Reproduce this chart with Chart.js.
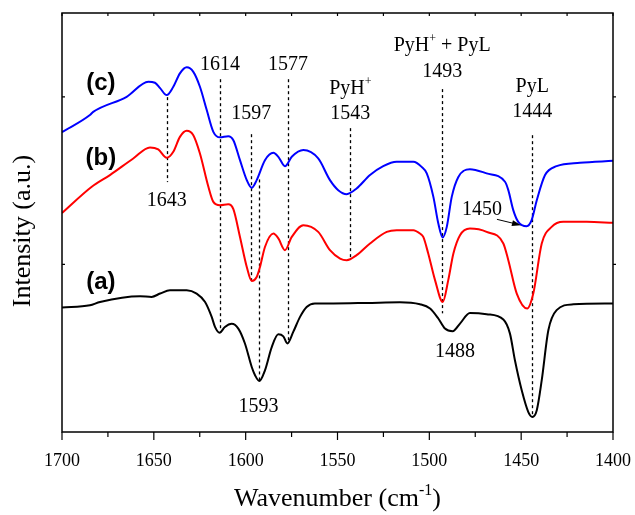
<!DOCTYPE html>
<html>
<head>
<meta charset="utf-8">
<script src="https://cdn.jsdelivr.net/npm/chart.js@4.4.1/dist/chart.umd.min.js"></script>
<style>
  html, body { margin: 0; padding: 0; background: #fff; }
  #wrap { width: 635px; height: 515px; }
</style>
</head>
<body>
<div id="wrap"><canvas id="c" width="635" height="515"></canvas></div>
<script>
// IR spectra of adsorbed pyridine, wavenumber axis runs from 1700 down to 1400 cm-1

// (c) blue spectrum
const wnC = [1700, 1684.8, 1683.0, 1664.8, 1653.0, 1649.4, 1646.6, 1643.0, 1639.4, 1635.8, 1632.1, 1628.5,
  1624.9, 1621.2, 1617.6, 1614.0, 1609.5, 1606.7, 1603.1, 1599.4, 1596.7, 1594.0, 1589.5, 1584.9, 1582.2,
  1578.6, 1574.9, 1568.6, 1560.5, 1554.1, 1549.6, 1545.0, 1539.6, 1532.3, 1525.1, 1517.8, 1508.7, 1504.2,
  1501.4, 1497.8, 1495.1, 1492.7, 1490.5, 1487.8, 1484.2, 1477.9, 1468.8, 1458.8, 1457.0, 1454.3, 1451.6,
  1447.0, 1444.3, 1441.5, 1437.0, 1430.7, 1418.0, 1400];
const intC = [1.789, 1.891, 1.910, 2.000, 2.090, 2.084, 2.052, 2.010, 2.060, 2.140, 2.176, 2.149,
  2.060, 1.921, 1.791, 1.758, 1.765, 1.741, 1.622, 1.503, 1.457, 1.503, 1.622, 1.666, 1.642,
  1.586, 1.642, 1.682, 1.632, 1.503, 1.443, 1.419, 1.453, 1.533, 1.586, 1.612, 1.612, 1.582,
  1.543, 1.403, 1.244, 1.161, 1.224, 1.403, 1.522, 1.568, 1.543, 1.493, 1.443, 1.324, 1.254,
  1.228, 1.264, 1.383, 1.533, 1.586, 1.606, 1.618];

// (b) red spectrum
const wnB = [1700, 1683.8, 1673.9, 1661.2, 1652.1, 1647.6, 1643.0, 1639.4, 1635.8, 1632.1, 1628.5, 1624.9,
  1620.3, 1617.6, 1614.0, 1609.5, 1606.7, 1603.1, 1599.4, 1596.7, 1594.0, 1592.2, 1589.5, 1584.9, 1582.2,
  1578.6, 1574.9, 1568.6, 1560.5, 1554.1, 1548.6, 1545.0, 1539.6, 1532.3, 1523.2, 1517.8, 1508.7, 1505.1,
  1503.3, 1500.6, 1496.9, 1492.7, 1489.7, 1486.9, 1483.3, 1477.9, 1468.8, 1459.7, 1457.0, 1452.4, 1446.7,
  1443.4, 1438.8, 1433.4, 1427.1, 1414.3, 1400];
const intB = [1.306, 1.463, 1.533, 1.632, 1.698, 1.686, 1.636, 1.672, 1.761, 1.797, 1.771, 1.662,
  1.463, 1.373, 1.353, 1.359, 1.330, 1.164, 0.985, 0.901, 0.925, 0.985, 1.104, 1.184, 1.155,
  1.085, 1.164, 1.234, 1.194, 1.085, 1.035, 1.025, 1.055, 1.125, 1.194, 1.204, 1.204, 1.184,
  1.164, 1.065, 0.906, 0.776, 0.906, 1.065, 1.174, 1.214, 1.194, 1.125, 1.025, 0.826, 0.737,
  0.826, 1.125, 1.224, 1.254, 1.254, 1.248];

// (a) black spectrum
const wnA = [1700, 1684.8, 1679.3, 1657.5, 1651.2, 1646.6, 1641.2, 1632.1, 1626.7, 1622.1, 1618.5, 1616.7,
  1614.2, 1611.3, 1607.6, 1604.0, 1600.4, 1596.7, 1594.9, 1592.6, 1589.5, 1585.8, 1582.2, 1579.5, 1577.3,
  1574.1, 1570.4, 1566.8, 1562.3, 1552.3, 1534.1, 1516.0, 1505.1, 1499.6, 1495.1, 1491.5, 1487.3, 1483.3,
  1477.9, 1468.8, 1459.7, 1456.1, 1453.4, 1449.7, 1446.1, 1443.9, 1441.5, 1438.8, 1435.2, 1430.7, 1421.6, 1400];
const intA = [0.743, 0.756, 0.776, 0.810, 0.806, 0.826, 0.846, 0.846, 0.826, 0.776, 0.687, 0.627,
  0.592, 0.627, 0.646, 0.617, 0.528, 0.388, 0.339, 0.304, 0.368, 0.507, 0.583, 0.571, 0.528,
  0.597, 0.687, 0.746, 0.767, 0.767, 0.770, 0.774, 0.762, 0.737, 0.677, 0.617, 0.601, 0.647,
  0.710, 0.703, 0.671, 0.587, 0.428, 0.249, 0.119, 0.090, 0.130, 0.309, 0.607, 0.727, 0.762, 0.767];

// Band positions marked by dashed lines: wavenumber, upper and lower end (intensity units)
const bandWn   = [1643, 1614, 1597, 1593, 1577, 1543, 1493, 1444];
const bandTop  = [1.998, 2.105, 1.777, 1.507, 2.105, 1.813, 2.046, 1.771];
const bandBot  = [1.491, 0.595, 0.899, 0.303, 0.530, 1.041, 0.708, 0.094];

// Text labels: [text, superscript, trailing text, wavenumber, intensity]
const bandLabels = [
  ['1643', '', '', 1643, 1.388],
  ['1614', '', '', 1614, 2.201],
  ['1597', '', '', 1597, 1.908],
  ['1593', '', '', 1593, 0.159],
  ['1577', '', '', 1577, 2.201],
  ['PyH', '+', '', 1543, 2.057],
  ['1543', '', '', 1543, 1.908],
  ['PyH', '+', ' + PyL', 1493, 2.315],
  ['1493', '', '', 1493, 2.159],
  ['PyL', '', '', 1444, 2.069],
  ['1444', '', '', 1444, 1.920],
  ['1488', '', '', 1486, 0.488],
  ['1450', '', '', 1471.3, 1.334]
];
const seriesNames = ['(c)', '(b)', '(a)'];
const seriesNamePos = [[1678.8, 2.081], [1678.8, 1.634], [1678.8, 0.893]];
// arrow from the 1450 label to the shoulder on spectrum (c)
const arrowFrom = [1463.2, 1.269];
const arrowTo = [1450.1, 1.234];

const xTicks = [1700, 1650, 1600, 1550, 1500, 1450, 1400];

const pts = (w, v) => w.map((x, i) => ({ x: x, y: v[i] }));

const SERIF = '"Liberation Serif", "Times New Roman", serif';

function drawSupText(ctx, main, sup, tail, cx, cy, size) {
  const mainFont = size + 'px ' + SERIF;
  const supFont = Math.round(size * 0.6) + 'px ' + SERIF;
  ctx.font = mainFont;
  const w1 = ctx.measureText(main).width;
  const w3 = tail ? ctx.measureText(tail).width : 0;
  ctx.font = supFont;
  const w2 = sup ? ctx.measureText(sup).width : 0;
  let x = cx - (w1 + w2 + w3) / 2;
  ctx.textAlign = 'left';
  ctx.textBaseline = 'alphabetic';
  const base = cy + size * 0.33;
  ctx.font = mainFont;
  ctx.fillText(main, x, base);
  x += w1;
  if (sup) {
    ctx.font = supFont;
    ctx.fillText(sup, x, base - size * 0.42);
    x += w2;
  }
  if (tail) {
    ctx.font = mainFont;
    ctx.fillText(tail, x, base);
  }
}

const decor = {
  id: 'decor',
  beforeDatasetsDraw(chart) {
    const { ctx } = chart;
    const xs = chart.scales.x, ys = chart.scales.y;
    ctx.save();
    ctx.strokeStyle = '#000';
    ctx.lineWidth = 1.3;
    ctx.setLineDash([3, 3]);
    bandWn.forEach((w, i) => {
      const px = Math.round(xs.getPixelForValue(w)) + 0.5;
      ctx.beginPath();
      ctx.moveTo(px, ys.getPixelForValue(bandTop[i]));
      ctx.lineTo(px, ys.getPixelForValue(bandBot[i]));
      ctx.stroke();
    });
    ctx.restore();
  },
  afterDraw(chart) {
    const { ctx, chartArea: a } = chart;
    const xs = chart.scales.x, ys = chart.scales.y;
    ctx.save();
    ctx.strokeStyle = '#000';
    ctx.fillStyle = '#000';
    // frame
    ctx.lineWidth = 1.5;
    ctx.strokeRect(a.left, a.top, a.right - a.left, a.bottom - a.top);
    // x ticks every 25 on bottom (outward) and top (inward)
    ctx.lineWidth = 1.2;
    for (let w = 1400; w <= 1700; w += 25) {
      const px = xs.getPixelForValue(w);
      const major = w % 50 === 0;
      ctx.beginPath();
      ctx.moveTo(px, a.bottom);
      ctx.lineTo(px, a.bottom + (major ? 8 : 5));
      ctx.moveTo(px, a.top);
      ctx.lineTo(px, a.top + 3);
      ctx.stroke();
    }
    // y ticks
    [1, 2].forEach(v => {
      const py = ys.getPixelForValue(v);
      ctx.beginPath();
      ctx.moveTo(a.left, py);
      ctx.lineTo(a.left + 3, py);
      ctx.moveTo(a.right, py);
      ctx.lineTo(a.right + 3, py);
      ctx.stroke();
    });
    // band labels
    bandLabels.forEach(l => {
      drawSupText(ctx, l[0], l[1], l[2], xs.getPixelForValue(l[3]), ys.getPixelForValue(l[4]), 20);
    });
    // spectrum names
    ctx.font = 'bold 24px "Liberation Sans", Arial, sans-serif';
    ctx.textAlign = 'center';
    ctx.textBaseline = 'middle';
    seriesNames.forEach((n, i) => {
      ctx.fillText(n, xs.getPixelForValue(seriesNamePos[i][0]), ys.getPixelForValue(seriesNamePos[i][1]));
    });
    // arrow
    const x1 = xs.getPixelForValue(arrowFrom[0]), y1 = ys.getPixelForValue(arrowFrom[1]);
    const x2 = xs.getPixelForValue(arrowTo[0]), y2 = ys.getPixelForValue(arrowTo[1]);
    const ang = Math.atan2(y2 - y1, x2 - x1);
    ctx.lineWidth = 1;
    ctx.beginPath();
    ctx.moveTo(x1, y1);
    ctx.lineTo(x2 - 6 * Math.cos(ang), y2 - 6 * Math.sin(ang));
    ctx.stroke();
    ctx.beginPath();
    ctx.moveTo(x2, y2);
    ctx.lineTo(x2 - 9 * Math.cos(ang) + 3 * Math.sin(ang), y2 - 9 * Math.sin(ang) - 3 * Math.cos(ang));
    ctx.lineTo(x2 - 9 * Math.cos(ang) - 3 * Math.sin(ang), y2 - 9 * Math.sin(ang) + 3 * Math.cos(ang));
    ctx.closePath();
    ctx.fill();
    // axis titles
    const cxTitle = (a.left + a.right) / 2;
    drawSupText(ctx, 'Wavenumber (cm', '-1', ')', cxTitle, 497, 26);
    ctx.save();
    ctx.translate(23, (a.top + a.bottom) / 2 + 8.5);
    ctx.rotate(-Math.PI / 2);
    ctx.font = '26px ' + SERIF;
    ctx.textAlign = 'center';
    ctx.textBaseline = 'middle';
    ctx.fillText('Intensity (a.u.)', 0, 0);
    ctx.restore();
    ctx.restore();
  }
};

const lineStyle = { borderWidth: 2, pointRadius: 0, fill: false, cubicInterpolationMode: 'monotone' };

new Chart(document.getElementById('c'), {
  type: 'line',
  data: {
    datasets: [
      Object.assign({ label: '(a)', data: pts(wnA, intA), borderColor: '#000000' }, lineStyle),
      Object.assign({ label: '(b)', data: pts(wnB, intB), borderColor: '#ff0000' }, lineStyle),
      Object.assign({ label: '(c)', data: pts(wnC, intC), borderColor: '#0000ff' }, lineStyle)
    ]
  },
  options: {
    responsive: false,
    animation: false,
    events: [],
    layout: { padding: { top: 13, right: 22, left: 0, bottom: 0 } },
    plugins: { legend: { display: false }, tooltip: { enabled: false } },
    scales: {
      x: {
        type: 'linear',
        min: 1400,
        max: 1700,
        reverse: true,
        grid: { display: false },
        border: { display: false },
        ticks: {
          color: '#000',
          padding: 10,
          maxRotation: 0,
          autoSkip: false,
          font: { family: SERIF, size: 18 },
          callback: v => String(v)
        },
        afterBuildTicks(scale) { scale.ticks = xTicks.map(v => ({ value: v })); },
        afterFit(scale) {
          scale.height = 83;
          scale.paddingLeft = 0;
          scale.paddingRight = 0;
        }
      },
      y: {
        min: 0,
        max: 2.5,
        grid: { display: false },
        border: { display: false },
        ticks: { display: false },
        afterFit(scale) { scale.width = 62; }
      }
    }
  },
  plugins: [decor]
});
</script>
</body>
</html>
